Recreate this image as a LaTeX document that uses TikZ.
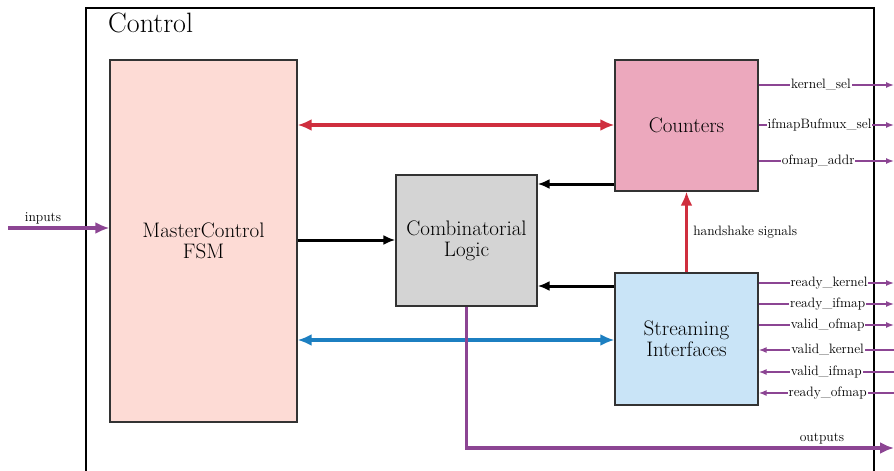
\documentclass[tikz,border=0pt]{standalone}
\usetikzlibrary{arrows.meta}
\definecolor{fsmfill}{HTML}{FDDBD5}
\definecolor{cntfill}{HTML}{ECA8BD}
\definecolor{logicfill}{HTML}{D4D4D4}
\definecolor{streamfill}{HTML}{C9E4F7}
\definecolor{sigpurple}{HTML}{8C4593}
\definecolor{busred}{HTML}{CF2E3E}
\definecolor{busblue}{HTML}{1C7FC1}
\definecolor{boxedge}{HTML}{333333}
\tikzset{
  block/.style={draw=boxedge, line width=1.2pt, inner sep=0pt, align=center,
                font=\fontsize{21}{21}\selectfont},
  sigline/.style={draw=sigpurple, line width=1.4pt, -{Latex[length=8pt,width=6pt]}},
  thickpurple/.style={draw=sigpurple, line width=3.5pt, line join=miter, -{Latex[length=14pt,width=12pt]}},
  blackbus/.style={draw=black, line width=3pt, -{Latex[length=12pt,width=10pt]}},
  redbus/.style={draw=busred, line width=3.5pt, {Latex[length=14pt,width=12pt]}-{Latex[length=14pt,width=12pt]}},
  bluebus/.style={draw=busblue, line width=3.5pt, {Latex[length=14pt,width=12pt]}-{Latex[length=14pt,width=12pt]}},
  siglabel/.style={fill=white, inner sep=1pt, font=\fontsize{13.6}{15}\selectfont},
  plainlabel/.style={inner sep=0pt, font=\fontsize{13.6}{15}\selectfont},
}
\begin{document}
\begin{tikzpicture}[x=1pt, y=-1pt]
  \useasboundingbox (0,0) rectangle (894,471);

  % enclosing Control region (open at the bottom)
  \draw[line width=1.2pt] (86,471) -- (86,8) -- (874,8) -- (874,471);
  \node[anchor=base west, inner sep=0pt, font=\fontsize{28}{30}\selectfont] (title) at (108,32) {Control};

  % blocks
  \node[block, fill=fsmfill, minimum width=187pt, minimum height=362pt] (fsm) at (203.5,241) {MasterControl\\FSM};
  \node[block, fill=cntfill, minimum width=143pt, minimum height=131pt] (cnt) at (686.5,125.5) {Counters};
  \node[block, fill=logicfill, minimum width=141pt, minimum height=131pt] (logic) at (466.5,240.5) {Combinatorial\\Logic};
  \node[block, fill=streamfill, minimum width=143pt, minimum height=132pt] (stream) at (686.5,339) {Streaming\\Interfaces};

  % edge coordinates on the right border of the page
  \coordinate (inL) at (8,228);
  \coordinate (kSel) at (894,85);
  \coordinate (iSel) at (894,125);
  \coordinate (oAddr) at (894,161);
  \coordinate (rK) at (894,283);
  \coordinate (rI) at (894,304);
  \coordinate (vO) at (894,325);
  \coordinate (vK) at (894,350);
  \coordinate (vI) at (894,372);
  \coordinate (rO) at (894,393);
  \coordinate (outR) at (894,448);

  % buses between blocks
  \draw[redbus] (fsm.east |- 0,125) -- (cnt.west |- 0,125);
  \draw[bluebus] (fsm.east |- 0,340) -- (stream.west |- 0,340);
  \draw[blackbus] (fsm.east |- 0,240) -- (logic.west |- 0,240);
  \draw[blackbus] (cnt.west |- 0,184) -- (logic.east |- 0,184);
  \draw[blackbus] (stream.west |- 0,286) -- (logic.east |- 0,286);
  \draw[draw=busred, line width=3.5pt, -{Latex[length=14pt,width=12pt]}] (stream.north) -- node[plainlabel, right=5pt] {handshake signals} (cnt.south);

  % primary inputs and outputs
  \draw[thickpurple] (inL) -- (fsm.west |- inL);
  \node[plainlabel, anchor=base] (inlbl) at (43,221) {inputs};
  \draw[thickpurple] (logic.south) -- (logic.south |- outR) -- (outR);
  \node[plainlabel, anchor=base] (outlbl) at (822,441) {outputs};

  % counter outputs
  \draw[sigline] (cnt.east |- kSel) -- node[siglabel, pos=0.46] {kernel\_sel} (kSel);
  \draw[sigline] (cnt.east |- iSel) -- node[siglabel, pos=0.45] {ifmapBufmux\_sel} (iSel);
  \draw[sigline] (cnt.east |- oAddr) -- node[siglabel, pos=0.44] {ofmap\_addr} (oAddr);

  % streaming handshakes
  \draw[sigline] (stream.east |- rK) -- node[siglabel, pos=0.52] {ready\_kernel} (rK);
  \draw[sigline] (stream.east |- rI) -- node[siglabel, pos=0.51] {ready\_ifmap} (rI);
  \draw[sigline] (stream.east |- vO) -- node[siglabel, pos=0.51] {valid\_ofmap} (vO);
  \draw[sigline] (vK) -- node[siglabel, pos=0.49] {valid\_kernel} (stream.east |- vK);
  \draw[sigline] (vI) -- node[siglabel, pos=0.5] {valid\_ifmap} (stream.east |- vI);
  \draw[sigline] (rO) -- node[siglabel, pos=0.49] {ready\_ofmap} (stream.east |- rO);
\end{tikzpicture}
\end{document}
